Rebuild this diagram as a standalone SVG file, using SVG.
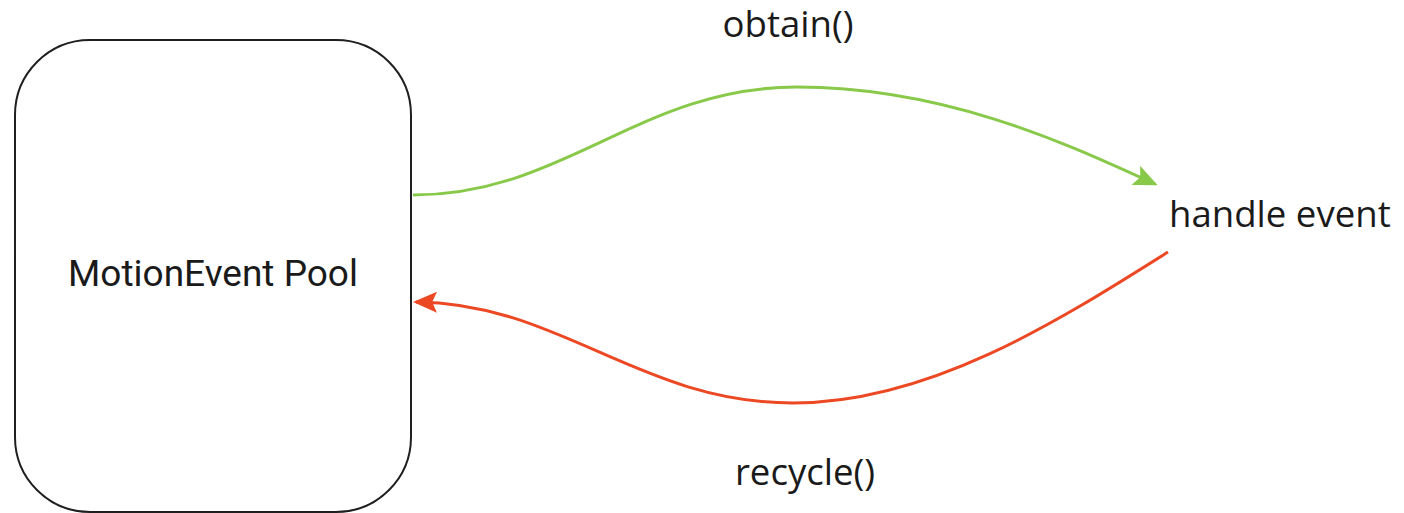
<svg xmlns="http://www.w3.org/2000/svg" width="1404" height="513" viewBox="0 0 1404 513">
  <style>
    .node { fill: #ffffff; stroke: #1f1f1f; stroke-width: 2; }
    .title { font-family: Roboto, "Liberation Sans", sans-serif; font-size: 37px; fill: #1a1a1a; }
    .label { font-family: "Open Sans", "Noto Sans", "Liberation Sans", sans-serif; font-size: 36.6px; fill: #1a1a1a; }
    .edge { fill: none; stroke-width: 3; }
    .obtain { stroke: #89c94a; }
    .recycle { stroke: #ec4824; }
  </style>
  <defs>
    <marker id="arrow-green" markerWidth="8" markerHeight="7" refX="7" refY="3.5" orient="auto" markerUnits="strokeWidth">
      <path d="M0,0 L8,3.5 L0,7 L1.6,3.5 Z" fill="#89c94a"/>
    </marker>
    <marker id="arrow-red" markerWidth="8" markerHeight="7" refX="7" refY="3.5" orient="auto" markerUnits="strokeWidth">
      <path d="M0,0 L8,3.5 L0,7 L1.6,3.5 Z" fill="#ec4824"/>
    </marker>
  </defs>
  <rect width="1404" height="513" fill="#ffffff"/>

  <g id="pool">
    <rect class="node" x="15" y="40" width="396" height="472" rx="75" ry="75"/>
    <text class="title" x="213" y="286" text-anchor="middle">MotionEvent Pool</text>
  </g>

  <g id="handle-event">
    <text class="label" x="1169" y="227">handle event</text>
  </g>

  <g id="connectors">
    <path class="edge obtain" d="M413,195 C565,195 640,87 797,87 C950,87 1075,148 1155,184" marker-end="url(#arrow-green)"/>
    <path class="edge recycle" d="M1168,252 C1060,320 930,403 793,403 C640,403 560,303 416,302" marker-end="url(#arrow-red)"/>
    <text class="label" x="788" y="37" text-anchor="middle">obtain()</text>
    <text class="label" x="805" y="485" text-anchor="middle">recycle()</text>
  </g>
</svg>
